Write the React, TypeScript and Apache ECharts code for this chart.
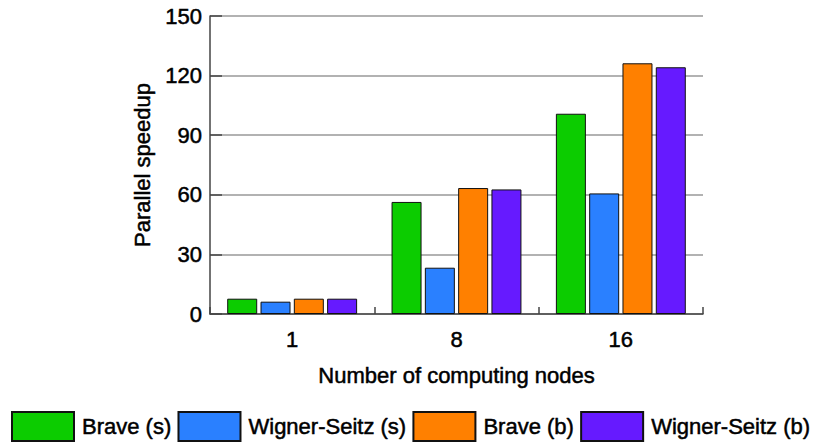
import React, { useEffect, useRef } from "react";
import * as echarts from "echarts";

const categories = ["1", "8", "16"];
const braveS = [7.7, 56.4, 100.8];
const wignerS = [6.2, 23.3, 60.7];
const braveB = [7.7, 63.4, 126.2];
const wignerB = [7.7, 62.7, 124.2];
const seriesNames = ["Brave (s)", "Wigner-Seitz (s)", "Brave (b)", "Wigner-Seitz (b)"];
const colors = ["#0ccc00", "#2a80ff", "#ff8000", "#661aff"];

export default function App() {
  const ref = useRef<HTMLDivElement>(null);
  useEffect(() => {
    if (!ref.current) return;
    const chart = echarts.init(ref.current, null, { renderer: "svg" });
    const font = "Liberation Sans, Arial, sans-serif";
    const heavy = { textBorderColor: "#000", textBorderWidth: 0.5 };
    const datas = [braveS, wignerS, braveB, wignerB];
    chart.setOption({
      animation: false,
      textStyle: { fontFamily: font },
      grid: { left: 210, right: 129, top: 16, bottom: 129 },
      legend: {
        left: 11,
        top: 411,
        padding: 0,
        itemWidth: 62,
        itemHeight: 29,
        itemGap: 6,
        icon: "rect",
        textStyle: { fontSize: 22, color: "#000", fontFamily: font, padding: [0, 0, 0, 3], ...heavy },
        data: seriesNames,
      },
      xAxis: {
        type: "category",
        data: categories,
        name: "Number of computing nodes",
        nameLocation: "middle",
        nameGap: 50,
        nameTextStyle: { fontSize: 22, color: "#000", fontFamily: font, ...heavy },
        axisLine: { lineStyle: { color: "#444", width: 1.5 } },
        axisTick: { show: true, inside: true, length: 7, lineStyle: { color: "#444", width: 1.5 } },
        axisLabel: { fontSize: 22, color: "#000", margin: 14, fontFamily: font, ...heavy },
      },
      yAxis: {
        type: "value",
        min: 0,
        max: 150,
        interval: 30,
        name: "Parallel speedup",
        nameLocation: "middle",
        nameGap: 54,
        nameTextStyle: { fontSize: 22, color: "#000", fontFamily: font, ...heavy },
        axisLine: { show: true, lineStyle: { color: "#444", width: 1.5 } },
        axisTick: { show: true, inside: true, length: 12, lineStyle: { color: "#444", width: 1.5 } },
        axisLabel: { fontSize: 22, color: "#000", margin: 8, fontFamily: font, ...heavy },
        splitLine: { show: true, lineStyle: { color: "#999", width: 1.5 } },
      },
      series: datas.map((d, i) => ({
        name: seriesNames[i],
        type: "bar",
        data: d,
        barWidth: 30,
        barGap: "11%",
        itemStyle: { color: colors[i], borderColor: "#111", borderWidth: 1 },
      })),
    });
    return () => chart.dispose();
  }, []);
  return <div ref={ref} style={{ width: 832, height: 443, position: "absolute", left: 0, top: 0 }} />;
}
